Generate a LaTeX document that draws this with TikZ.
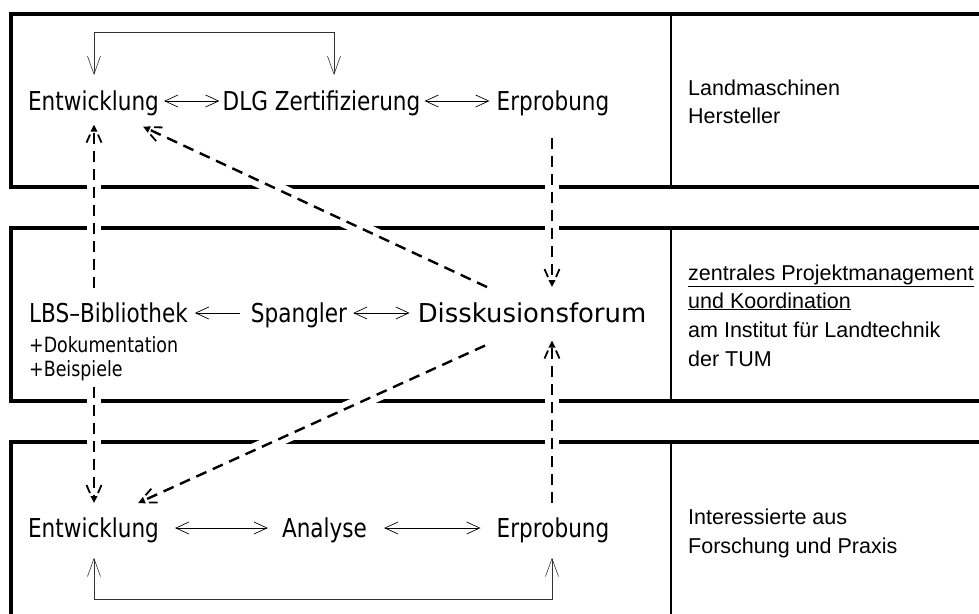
\documentclass[tikz,border=0pt]{standalone}
\usepackage{fontspec}
\usetikzlibrary{arrows.meta,calc,decorations.markings}
\newfontfamily\isofont[FakeStretch=0.83]{DejaVu Sans}
\newfontfamily\arialfont{Liberation Sans}
\pgfdeclarelayer{bg}
\pgfsetlayers{bg,main}
\begin{document}
\begin{tikzpicture}[x=1pt,y=-1pt,
 iso/.style={font=\isofont\fontsize{26}{30}\selectfont, inner sep=0pt, anchor=base},
 isosm/.style={font=\isofont\fontsize{21}{25}\selectfont, inner sep=0pt, anchor=base west},
 rtxt/.style={font=\arialfont\fontsize{21.5}{28}\selectfont, inner sep=0pt, anchor=base west},
 band/.style={line width=3.8pt, line join=miter},
 divider/.style={line width=1.3pt},
 thinar/.style={line width=0.7pt, {Straight Barb[length=13pt,width=12pt]}-{Straight Barb[length=13pt,width=12pt]}},
 thinarl/.style={line width=0.7pt, {Straight Barb[length=13pt,width=12pt]}-},
 loopar/.style={line width=0.6pt, black!80, {Straight Barb[length=18pt,width=13pt]}-{Straight Barb[length=18pt,width=13pt]}},
 halo/.style={draw=white, line width=14pt},
 dline/.style={line width=2.4pt, dash pattern=on 11pt off 7pt, -{Triangle[length=7pt,width=6.5pt]},
   postaction={decorate},
   decoration={markings, mark=at position 1 with {\draw[solid,line width=1.8pt,-] (-10pt,4pt)--(-18pt,7.5pt) (-10pt,-4pt)--(-18pt,-7.5pt);}}}
]
\useasboundingbox (0,0) rectangle (979,613);

% left-hand texts
\node[iso] (e1) at (93.5,110) {Entwicklung};
\node[iso] (dlg) at (321.5,110) {DLG Zertifizierung};
\node[iso] (p1) at (553,110) {Erprobung};
\node[iso,anchor=base west] (lbs) at (29,322) {LBS–Bibliothek};
\node[iso] (spg) at (299,322) {Spangler};
\node[iso] (disk) at (532,322) {\scalebox{1.2}[1]{Disskusionsforum}};
\node[isosm] (dok) at (29,352) {+Dokumentation};
\node[isosm] (bsp) at (29,376) {+Beispiele};
\node[iso] (e3) at (93.5,537) {Entwicklung};
\node[iso] (ana) at (324.5,537) {Analyse};
\node[iso] (p3) at (553,537) {Erprobung};

% right-hand texts
\node[rtxt] (r1a) at (688,95) {Landmaschinen};
\node[rtxt] (r1b) at (688,123) {Hersteller};
\node[rtxt] (r2a) at (688,280) {\underline{zentrales Projektmanagement}};
\node[rtxt] (r2b) at (688,308) {\underline{und Koordination}};
\node[rtxt] (r2c) at (688,337) {am Institut für Landtechnik};
\node[rtxt] (r2d) at (688,366) {der TUM};
\node[rtxt] (r3a) at (688,524) {Interessierte aus};
\node[rtxt] (r3b) at (688,553) {Forschung und Praxis};

% connector end points
\coordinate (d1s) at ($(e1.south |- lbs.north)+(0.5,-14)$);
\coordinate (d1e) at ($(e1.south)+(0.5,9)$);
\coordinate (d2s) at ($(disk.north)+(-45,-15)$);
\coordinate (d2e) at ($(e1.south)+(49.5,11)$);
\coordinate (d3s) at ($(p1.south)+(-1,22)$);
\coordinate (d3e) at ($(p1.south |- disk.north)+(-1,-15)$);
\coordinate (d4s) at ($(e1.south |- bsp.south)+(0.5,6)$);
\coordinate (d4e) at ($(e3.north)+(0.5,-14)$);
\coordinate (d5s) at ($(disk.south)+(-47,23)$);
\coordinate (d5e) at ($(e3.north)+(44.5,-14)$);
\coordinate (d6s) at ($(p3.north)+(-1,-14)$);
\coordinate (d6e) at ($(p3.north |- disk.south)+(-1,18)$);

\begin{pgfonlayer}{bg}
\draw[band] (990,14) -- (11,14) -- (11,187) -- (990,187);
\draw[band] (990,228) -- (11,228) -- (11,401) -- (990,401);
\draw[band] (990,442) -- (11,442) -- (11,630);
\draw[divider] (671,14) -- (671,187) (671,228) -- (671,401) (671,442) -- (671,630);
\foreach \a/\b in {d1s/d1e,d2s/d2e,d3s/d3e,d4s/d4e,d5s/d5e,d6s/d6e}
  \draw[halo] (\a) -- (\b);
\end{pgfonlayer}

% dashed connectors
\draw[dline] (d1s) -- (d1e);
\draw[dline] (d2s) -- (d2e);
\draw[dline] (d3s) -- (d3e);
\draw[dline] (d4s) -- (d4e);
\draw[dline] (d5s) -- (d5e);
\draw[dline] (d6s) -- (d6e);

% loops
\draw[loopar] ($(e1.north)+(0.5,-15)$) -- ($(e1.north)+(0.5,-58)$) -| ($(dlg.north)+(12.5,-15)$);
\draw[loopar] ($(e3.south)+(0.5,15)$) -- ($(e3.south)+(0.5,57)$) -| ($(p3.south)+(-1,15)$);

% row arrows
\draw[thinar] ([xshift=5pt,yshift=9pt]e1.base east) -- ([xshift=-3pt,yshift=9pt]dlg.base west);
\draw[thinar] ([xshift=4pt,yshift=9pt]dlg.base east) -- ([xshift=-7pt,yshift=9pt]p1.base west);
\draw[thinarl] ([xshift=7pt,yshift=9pt]lbs.base east) -- ([xshift=-11pt,yshift=9pt]spg.base west);
\draw[thinar] ([xshift=6pt,yshift=9pt]spg.base east) -- ([xshift=-8pt,yshift=9pt]disk.base west);
\draw[thinar] ([xshift=16pt,yshift=9pt]e3.base east) -- ([xshift=-14pt,yshift=9pt]ana.base west);
\draw[thinar] ([xshift=17pt,yshift=9pt]ana.base east) -- ([xshift=-16pt,yshift=9pt]p3.base west);
\end{tikzpicture}
\end{document}
